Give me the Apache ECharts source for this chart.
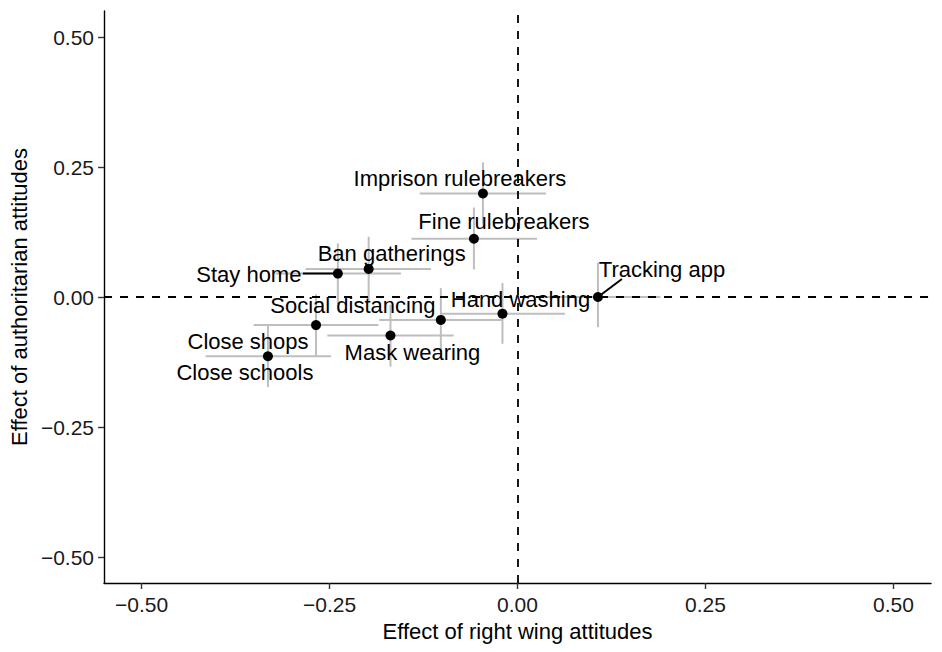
<!DOCTYPE html>
<html>
<head>
<meta charset="utf-8">
<script src="https://cdn.jsdelivr.net/npm/echarts@6/dist/echarts.min.js"></script>
<style>
  html, body { margin: 0; padding: 0; background: #ffffff; }
  #chart { width: 942px; height: 652px; }
</style>
</head>
<body>
<div id="chart"></div>
<script>
// ---- data ----
const policies = ["Imprison rulebreakers", "Fine rulebreakers", "Ban gatherings", "Stay home",
  "Social distancing", "Hand washing", "Tracking app", "Close shops", "Close schools", "Mask wearing"];
const rightWingEst  = [-0.046, -0.058, -0.198, -0.239, -0.102, -0.020, 0.107, -0.268, -0.332, -0.169];
const rightWingLow  = [-0.130, -0.141, -0.282, -0.322, -0.184, -0.102, 0.024, -0.351, -0.415, -0.253];
const rightWingHigh = [ 0.038,  0.026, -0.115, -0.155, -0.020,  0.063, 0.190, -0.185, -0.248, -0.085];
const authEst  = [0.199, 0.112,  0.054,  0.045, -0.044, -0.032,  0.000, -0.054, -0.114, -0.074];
const authLow  = [0.139, 0.053, -0.007, -0.013, -0.105, -0.090, -0.058, -0.114, -0.173, -0.134];
const authHigh = [0.259, 0.172,  0.116,  0.103,  0.017,  0.027,  0.066,  0.005, -0.053, -0.015];
const xTickValues = [-0.5, -0.25, 0, 0.25, 0.5];
const yTickValues = [-0.5, -0.25, 0, 0.25, 0.5];
const xTitle = "Effect of right wing attitudes";
const yTitle = "Effect of authoritarian attitudes";

// ---- layout (label placement in pixels relative to each point; style only) ----
const labelLayout = {
  "Imprison rulebreakers": { dx: -23, dy: -15 },
  "Fine rulebreakers":     { dx: 30,  dy: -17 },
  "Ban gatherings":        { dx: 23,  dy: -15 },
  "Stay home":             { dx: -89, dy: 0.6, seg: [-35, 0] },
  "Social distancing":     { dx: -88, dy: -14.5 },
  "Hand washing":          { dx: 18,  dy: -14 },
  "Tracking app":          { dx: 64,  dy: -28, seg: [24, -18] },
  "Close shops":           { dx: -68, dy: 16 },
  "Close schools":         { dx: -23, dy: 16.6 },
  "Mask wearing":          { dx: 22,  dy: 17 }
};

const FONT = '"Liberation Sans", Arial, Helvetica, sans-serif';
const fmt = v => (v < 0 ? '\u2212' : '') + Math.abs(v).toFixed(2);

const rows = policies.map((p, i) => [rightWingEst[i], authEst[i], rightWingLow[i], rightWingHigh[i], authLow[i], authHigh[i], p]);

const chart = echarts.init(document.getElementById('chart'), null, { renderer: 'svg' });

const axisCommon = {
  type: 'value',
  min: -0.55,
  max: 0.55,
  splitLine: { show: false },
  axisLine: { onZero: false, lineStyle: { color: '#000', width: 1.4 } },
  axisTick: { length: 6, lineStyle: { color: '#333', width: 1.4 } },
  axisLabel: { fontSize: 21, color: '#1a1a1a', fontFamily: FONT, formatter: fmt },
  nameLocation: 'middle',
  nameTextStyle: { fontSize: 22, color: '#000', fontFamily: FONT }
};

chart.setOption({
  animation: false,
  backgroundColor: '#ffffff',
  grid: { left: 103, right: 11, top: 11, bottom: 69, containLabel: false },
  xAxis: Object.assign({}, axisCommon, {
    name: xTitle,
    nameGap: 37,
    axisTick: Object.assign({}, axisCommon.axisTick, { customValues: xTickValues }),
    axisLabel: Object.assign({}, axisCommon.axisLabel, { customValues: xTickValues, margin: 11 })
  }),
  yAxis: Object.assign({}, axisCommon, {
    name: yTitle,
    nameGap: 72,
    axisTick: Object.assign({}, axisCommon.axisTick, { customValues: yTickValues }),
    axisLabel: Object.assign({}, axisCommon.axisLabel, { customValues: yTickValues, margin: 10 })
  }),
  series: [
    {
      type: 'custom',
      name: 'ci',
      z: 1,
      clip: false,
      data: rows,
      encode: { x: [0, 2, 3], y: [1, 4, 5] },
      renderItem: function (params, api) {
        const x = api.value(0), y = api.value(1);
        const l = api.coord([api.value(2), y]);
        const r = api.coord([api.value(3), y]);
        const b = api.coord([x, api.value(4)]);
        const t = api.coord([x, api.value(5)]);
        const st = { stroke: '#BEBEBE', lineWidth: 2 };
        return {
          type: 'group',
          children: [
            { type: 'line', shape: { x1: l[0], y1: l[1], x2: r[0], y2: r[1] }, style: st },
            { type: 'line', shape: { x1: b[0], y1: b[1], x2: t[0], y2: t[1] }, style: st }
          ]
        };
      }
    },
    {
      type: 'scatter',
      name: 'ref',
      z: 2,
      data: [],
      markLine: {
        silent: true,
        symbol: ['none', 'none'],
        label: { show: false },
        lineStyle: { color: '#000', width: 1.8, type: [8, 8], opacity: 1 },
        data: [{ xAxis: 0 }, { yAxis: 0 }]
      }
    },
    {
      type: 'scatter',
      name: 'points',
      z: 3,
      symbol: 'circle',
      symbolSize: 10,
      itemStyle: { color: '#000', opacity: 1 },
      data: rows.map(r => [r[0], r[1]])
    },
    {
      type: 'custom',
      name: 'labels',
      z: 4,
      clip: false,
      data: rows,
      encode: { x: 0, y: 1 },
      renderItem: function (params, api) {
        const name = rows[params.dataIndex][6];
        const c = api.coord([api.value(0), api.value(1)]);
        const L = labelLayout[name];
        const children = [];
        if (L.seg) {
          children.push({ type: 'line', shape: { x1: c[0], y1: c[1], x2: c[0] + L.seg[0], y2: c[1] + L.seg[1] },
            style: { stroke: '#000', lineWidth: 2 } });
        }
        children.push({
          type: 'text',
          x: c[0] + L.dx,
          y: c[1] + L.dy,
          style: { text: name, fill: '#000', fontSize: 22, fontFamily: FONT, align: 'center', verticalAlign: 'middle' }
        });
        return { type: 'group', children: children };
      }
    }
  ]
});
</script>
</body>
</html>
